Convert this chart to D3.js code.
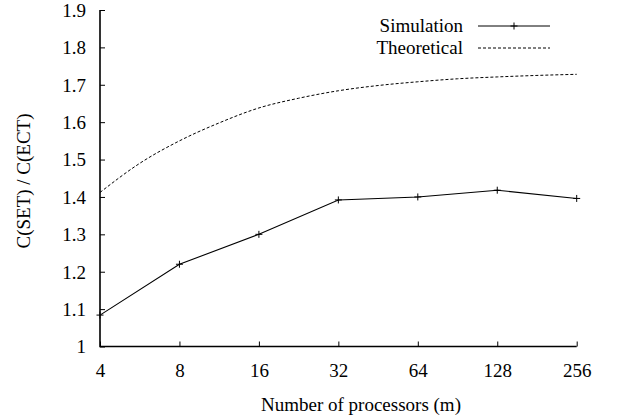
<!DOCTYPE html>
<html><head><meta charset="utf-8"><script src="https://cdn.jsdelivr.net/npm/d3@7"></script></head>
<body style="margin:0">
<script>
// processors (x) and the two series
var processors = [4, 8, 16, 32, 64, 128, 256];
var simulation = [1.084, 1.220, 1.300, 1.392, 1.400, 1.418, 1.396];

// theoretical curve at half-octave steps
var theoryX = [4, 5.66, 8, 11.31, 16, 22.63, 32, 45.25, 64, 90.51, 128, 181.02, 256];
var theoryY = [1.412, 1.490, 1.550, 1.598, 1.638, 1.664, 1.684, 1.698, 1.708, 1.716, 1.721, 1.725, 1.728];

var yTicks = [1, 1.1, 1.2, 1.3, 1.4, 1.5, 1.6, 1.7, 1.8, 1.9];
var seriesNames = ["Simulation", "Theoretical"];

var width = 622, height = 418;
var margin = {top: 10, right: 45.3, bottom: 71.5, left: 100};
var fontSize = "19px";

var svg = d3.select("body").append("svg")
    .attr("width", width)
    .attr("height", height);

var x = d3.scaleLog().base(2)
    .domain([4, 256])
    .range([margin.left, width - margin.right]);
var y = d3.scaleLinear()
    .domain([1, 1.9])
    .range([height - margin.bottom, margin.top]);

function styleText(sel) {
  sel.style("font-family", "'Liberation Serif'")
     .style("font-size", fontSize)
     .style("fill", "#000");
}

// y axis (ticks pointing inward)
var yAxis = svg.append("g")
    .attr("transform", "translate(" + margin.left + ",0)")
    .call(d3.axisRight(y).tickValues(yTicks).tickSize(5).tickFormat(d3.format("")).tickSizeOuter(0));
yAxis.attr("font-family", null);
yAxis.select(".domain").remove();
yAxis.selectAll(".tick line").attr("stroke", "#000").attr("stroke-width", 1);
yAxis.selectAll(".tick text")
    .attr("x", -14)
    .attr("dy", "0.33em")
    .attr("text-anchor", "end")
    .call(styleText);

// x axis (ticks pointing inward)
var xAxis = svg.append("g")
    .attr("transform", "translate(0," + y(1) + ")")
    .call(d3.axisTop(x).tickValues(processors).tickSize(5).tickFormat(d3.format("d")).tickSizeOuter(0));
xAxis.attr("font-family", null);
xAxis.select(".domain").remove();
xAxis.selectAll(".tick line").attr("stroke", "#000").attr("stroke-width", 1);
xAxis.selectAll(".tick text")
    .attr("y", 30.5)
    .attr("dy", 0)
    .call(styleText);

// the two axis lines (left + bottom only)
svg.append("path")
    .attr("d", "M" + x(4) + "," + y(1.9) + "V" + y(1) + "H" + x(256))
    .attr("fill", "none")
    .attr("stroke", "#000")
    .attr("stroke-width", 1.6);

// axis titles (gnuplot centres the x label on the whole canvas, not the axis)
svg.append("text")
    .attr("x", 361)
    .attr("y", 411)
    .attr("text-anchor", "middle")
    .call(styleText)
    .text("Number of processors (m)");

svg.append("text")
    .attr("transform", "translate(30,181) rotate(-90)")
    .attr("text-anchor", "middle")
    .call(styleText)
    .text("C(SET) / C(ECT)");

// theoretical curve
var theoryLine = d3.line()
    .x(function(d) { return x(d[0]); })
    .y(function(d) { return y(d[1]); })
    .curve(d3.curveMonotoneX);

svg.append("path")
    .datum(d3.zip(theoryX, theoryY))
    .attr("d", theoryLine)
    .attr("fill", "none")
    .attr("stroke", "#000")
    .attr("stroke-width", 1)
    .attr("stroke-dasharray", "3,2");

// simulation line + markers
var simLine = d3.line()
    .x(function(d) { return x(d[0]); })
    .y(function(d) { return y(d[1]); });

svg.append("path")
    .datum(d3.zip(processors, simulation))
    .attr("d", simLine)
    .attr("fill", "none")
    .attr("stroke", "#000")
    .attr("stroke-width", 1.1);

function plus(cx, cy, r) {
  return "M" + (cx - r) + "," + cy + "H" + (cx + r) + "M" + cx + "," + (cy - r) + "V" + (cy + r);
}

svg.selectAll(".marker")
    .data(d3.zip(processors, simulation))
  .enter().append("path")
    .attr("class", "marker")
    .attr("d", function(d) { return plus(x(d[0]), y(d[1]), 3.5); })
    .attr("stroke", "#000")
    .attr("stroke-width", 1);

// legend
var legendRows = [26, 48];
legendRows.forEach(function(ly, i) {
  svg.append("text")
      .attr("x", 463)
      .attr("y", ly)
      .attr("dy", "0.33em")
      .attr("text-anchor", "end")
      .call(styleText)
      .text(seriesNames[i]);
  var line = svg.append("line")
      .attr("x1", 478).attr("x2", 550)
      .attr("y1", ly).attr("y2", ly)
      .attr("stroke", "#000")
      .attr("stroke-width", 1);
  if (i === 1) line.attr("stroke-dasharray", "3,2");
  else svg.append("path").attr("d", plus(514, ly, 3.5)).attr("stroke", "#000").attr("stroke-width", 1);
});
</script>
</body>
</html>
